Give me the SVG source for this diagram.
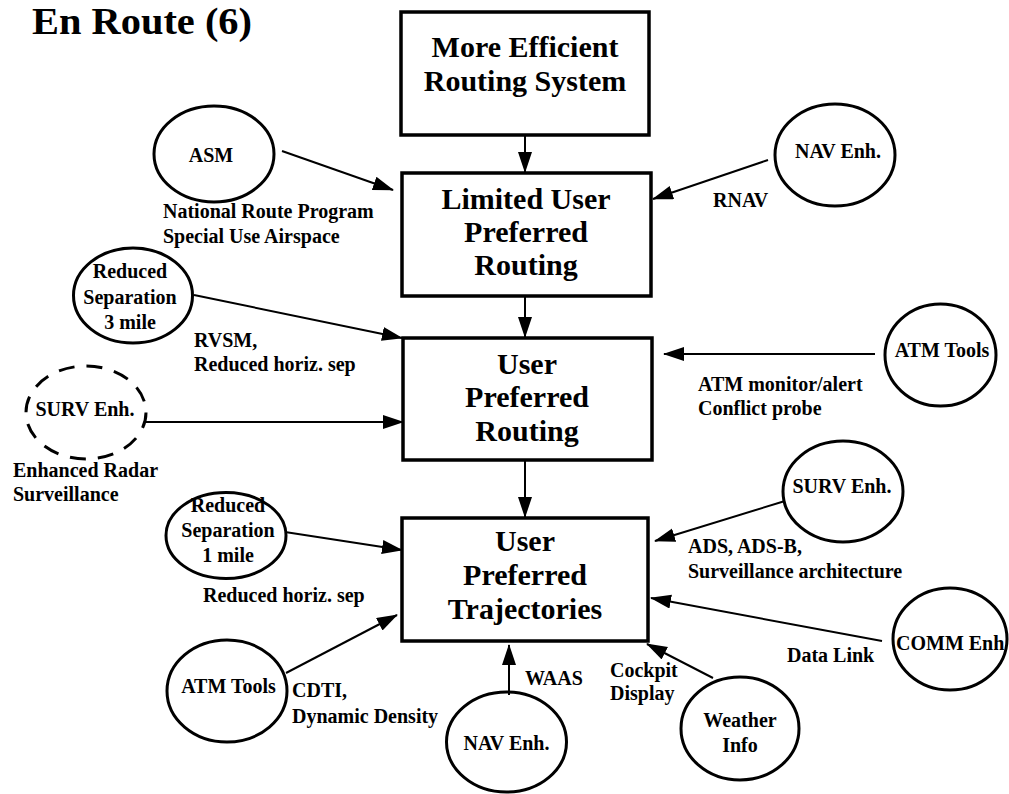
<svg xmlns="http://www.w3.org/2000/svg" width="1009" height="794" viewBox="0 0 1009 794">
<style>
text{font-family:"Liberation Serif","Times New Roman",serif;font-weight:bold;fill:#000}
.box{fill:#fff;stroke:#000;stroke-width:3.5}
.ell{fill:#fff;stroke:#000;stroke-width:3}
.dash{stroke-dasharray:16 12}
.bt{font-size:30px;text-anchor:middle}
.et{font-size:20px;text-anchor:middle}
.lt{font-size:20px}
.title{font-size:38px}
.con line{stroke:#000;stroke-width:2;marker-end:url(#ah)}
</style>
<defs>
<marker id="ah" markerUnits="userSpaceOnUse" markerWidth="21" markerHeight="15" refX="20" refY="7" orient="auto">
<path d="M0,0 L21,7 L0,14 z" fill="#000"/>
</marker>
</defs>
<rect width="1009" height="794" fill="#fff"/>
<text class="title" x="32" y="34" textLength="220" lengthAdjust="spacingAndGlyphs">En Route (6)</text>

<g id="n-more-efficient">
<rect class="box" x="401" y="12" width="248" height="123"/>
<text class="bt" x="525" y="57">More Efficient</text>
<text class="bt" x="525" y="91">Routing System</text>
</g>
<g id="n-limited-upr">
<rect class="box" x="402" y="173" width="249" height="123"/>
<text class="bt" x="526" y="209">Limited User</text>
<text class="bt" x="526" y="242">Preferred</text>
<text class="bt" x="526" y="275">Routing</text>
</g>
<g id="n-upr">
<rect class="box" x="403" y="338" width="249" height="122"/>
<text class="bt" x="527" y="374">User</text>
<text class="bt" x="527" y="407">Preferred</text>
<text class="bt" x="527" y="441">Routing</text>
</g>
<g id="n-upt">
<rect class="box" x="402" y="518" width="246" height="123"/>
<text class="bt" x="525" y="551">User</text>
<text class="bt" x="525" y="585">Preferred</text>
<text class="bt" x="525" y="619">Trajectories</text>
</g>

<g id="n-asm">
<ellipse class="ell" cx="214" cy="154" rx="60" ry="48"/>
<text class="et" x="211" y="162">ASM</text>
</g>
<g id="n-nav-top">
<ellipse class="ell" cx="835" cy="155" rx="60" ry="51"/>
<text class="et" x="838" y="158">NAV Enh.</text>
</g>
<g id="n-redsep3">
<ellipse class="ell" cx="133" cy="295.5" rx="59.5" ry="47.5"/>
<text class="et" x="130" y="278">Reduced</text>
<text class="et" x="130" y="304">Separation</text>
<text class="et" x="130" y="329">3 mile</text>
</g>
<g id="n-surv-dashed">
<ellipse class="ell dash" cx="86" cy="412.5" rx="60" ry="46.5"/>
<text class="et" x="85" y="416">SURV Enh.</text>
</g>
<g id="n-atm-right">
<ellipse class="ell" cx="940.5" cy="355" rx="55.5" ry="51"/>
<text class="et" x="942" y="357">ATM Tools</text>
</g>
<g id="n-surv-right">
<ellipse class="ell" cx="843" cy="491.5" rx="60" ry="50.5"/>
<text class="et" x="842" y="493">SURV Enh.</text>
</g>
<g id="n-redsep1">
<ellipse class="ell" cx="226" cy="535.5" rx="60" ry="43"/>
<text class="et" x="228" y="512">Reduced</text>
<text class="et" x="228" y="537">Separation</text>
<text class="et" x="228" y="562">1 mile</text>
</g>
<g id="n-atm-bottom">
<ellipse class="ell" cx="227" cy="691" rx="60" ry="51"/>
<text class="et" x="228.5" y="693">ATM Tools</text>
</g>
<g id="n-nav-bottom">
<ellipse class="ell" cx="506.5" cy="742" rx="60" ry="50"/>
<text class="et" x="506.5" y="750">NAV Enh.</text>
</g>
<g id="n-weather">
<ellipse class="ell" cx="740" cy="728.5" rx="59" ry="51.5"/>
<text class="et" x="740" y="727">Weather</text>
<text class="et" x="740" y="752">Info</text>
</g>
<g id="n-comm">
<ellipse class="ell" cx="950" cy="639" rx="57" ry="51"/>
<text class="lt" x="896" y="650">COMM Enh</text>
</g>

<g id="connectors" class="con">
<line x1="525" y1="135" x2="525" y2="172"/>
<line x1="282" y1="151" x2="393" y2="190"/>
<line x1="768" y1="160" x2="653" y2="199"/>
<line x1="525" y1="296" x2="525" y2="337"/>
<line x1="194" y1="295" x2="402" y2="338"/>
<line x1="875" y1="354" x2="664" y2="354"/>
<line x1="146" y1="422" x2="403" y2="422"/>
<line x1="525" y1="461" x2="525" y2="517"/>
<line x1="285" y1="532" x2="402" y2="550"/>
<line x1="785" y1="501" x2="655" y2="541"/>
<line x1="286" y1="673" x2="397" y2="615"/>
<line x1="509" y1="695" x2="509" y2="645"/>
<line x1="713" y1="678" x2="647" y2="644"/>
<line x1="882" y1="641" x2="651" y2="598"/>
</g>

<g id="labels">
<text class="lt" x="163" y="218">National Route Program</text>
<text class="lt" x="163" y="243">Special Use Airspace</text>
<text class="lt" x="713" y="207">RNAV</text>
<text class="lt" x="194" y="347">RVSM,</text>
<text class="lt" x="194" y="371">Reduced horiz. sep</text>
<text class="lt" x="698" y="391">ATM monitor/alert</text>
<text class="lt" x="698" y="415">Conflict probe</text>
<text class="lt" x="13" y="477">Enhanced Radar</text>
<text class="lt" x="13" y="501">Surveillance</text>
<text class="lt" x="203" y="602">Reduced horiz. sep</text>
<text class="lt" x="688" y="553">ADS, ADS-B,</text>
<text class="lt" x="688" y="578">Surveillance architecture</text>
<text class="lt" x="787" y="662">Data Link</text>
<text class="lt" x="610" y="677">Cockpit</text>
<text class="lt" x="610" y="700">Display</text>
<text class="lt" x="525" y="685">WAAS</text>
<text class="lt" x="292" y="697">CDTI,</text>
<text class="lt" x="292" y="723">Dynamic Density</text>
</g>
</svg>
